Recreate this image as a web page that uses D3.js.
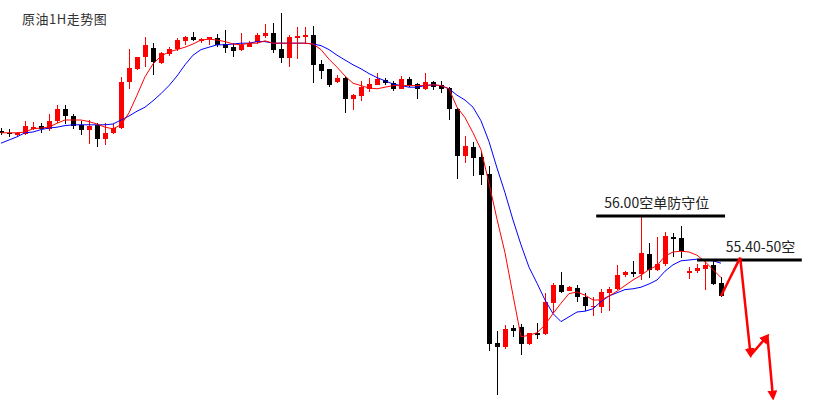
<!DOCTYPE html>
<html>
<head>
<meta charset="utf-8">
<title>原油1H走势图</title>
<script src="https://cdn.jsdelivr.net/npm/d3@7/dist/d3.min.js"></script>
<style>
  body { margin: 0; background: #fff; }
  text { font-family: "Noto Sans CJK SC", "Noto Sans", sans-serif; }
</style>
</head>
<body>
<svg width="840" height="400" id="mainsvg"></svg>
<script>
    // hourly bars, oldest first
    let opens = [
        57.06, 57.04, 57.01, 57.03, 57.10, 57.13, 57.09, 57.19, 57.34, 57.25,
        57.14, 57.08, 57.14, 56.96, 57.04, 57.10, 57.68, 57.84, 57.99, 58.10,
        57.91, 58.03, 58.09, 58.19, 58.24, 58.20, 58.21, 58.23, 58.15, 58.11,
        58.08, 58.11, 58.18, 58.25, 58.29, 58.09, 57.98, 58.24, 58.25, 58.26,
        57.90, 57.84, 57.68, 57.73, 57.46, 57.50, 57.59, 57.64, 57.70, 57.66,
        57.59, 57.71, 57.65, 57.59, 57.68, 57.64, 57.60, 57.34, 56.75, 56.86,
        56.74, 56.53, 54.41, 54.36, 54.60, 54.61, 54.40, 54.54, 54.53, 54.91,
        55.14, 55.06, 55.10, 54.99, 54.86, 54.86, 55.04, 55.09, 55.26, 55.30,
        55.28, 55.53, 55.33, 55.40, 55.74, 55.73, 55.30, 55.31, 55.34, 55.39,
        55.16
    ];
    let highs = [
        57.10, 57.09, 57.05, 57.19, 57.18, 57.16, 57.28, 57.39, 57.39, 57.28,
        57.19, 57.20, 57.16, 57.16, 57.15, 57.74, 58.09, 57.99, 58.24, 58.16,
        58.05, 58.11, 58.23, 58.25, 58.30, 58.23, 58.24, 58.28, 58.33, 58.16,
        58.29, 58.19, 58.29, 58.40, 58.41, 58.54, 58.26, 58.36, 58.36, 58.38,
        57.95, 57.84, 57.76, 57.74, 57.53, 57.69, 57.73, 57.79, 57.73, 57.69,
        57.75, 57.74, 57.66, 57.79, 57.69, 57.69, 57.61, 57.35, 57.00, 56.93,
        56.80, 56.63, 54.56, 54.64, 54.64, 54.65, 54.54, 54.66, 55.04, 55.16,
        55.30, 55.13, 55.14, 55.04, 54.99, 55.09, 55.11, 55.39, 55.31, 55.44,
        55.99, 55.66, 55.74, 55.80, 55.79, 55.88, 55.36, 55.40, 55.46, 55.45,
        55.24
    ];
    let lows = [
        57.01, 56.99, 57.00, 57.01, 57.08, 57.04, 57.06, 57.16, 57.15, 57.09,
        57.01, 56.90, 56.86, 56.89, 57.03, 57.09, 57.59, 57.83, 57.86, 57.76,
        57.90, 58.00, 58.06, 58.14, 58.19, 58.16, 58.14, 58.11, 58.04, 57.99,
        58.06, 58.11, 58.15, 58.23, 58.04, 57.91, 57.86, 57.96, 58.15, 57.66,
        57.71, 57.61, 57.66, 57.29, 57.33, 57.44, 57.55, 57.64, 57.64, 57.56,
        57.59, 57.61, 57.46, 57.58, 57.58, 57.54, 57.20, 56.46, 56.66, 56.50,
        56.39, 54.31, 53.76, 54.34, 54.49, 54.26, 54.39, 54.46, 54.51, 54.79,
        55.04, 55.06, 54.93, 54.81, 54.75, 54.79, 54.81, 55.08, 55.24, 55.24,
        55.20, 55.23, 55.31, 55.38, 55.49, 55.48, 55.21, 55.29, 55.08, 55.14,
        54.99
    ];
    let closes = [
        57.04, 57.03, 57.04, 57.13, 57.11, 57.09, 57.19, 57.34, 57.25, 57.13,
        57.08, 57.13, 56.96, 57.04, 57.10, 57.68, 57.85, 57.99, 58.14, 57.93,
        58.04, 58.09, 58.20, 58.24, 58.20, 58.21, 58.24, 58.14, 58.10, 58.06,
        58.14, 58.16, 58.26, 58.29, 58.08, 57.98, 58.24, 58.25, 58.26, 57.89,
        57.81, 57.64, 57.73, 57.46, 57.51, 57.61, 57.65, 57.71, 57.66, 57.59,
        57.71, 57.64, 57.59, 57.68, 57.61, 57.59, 57.34, 56.75, 56.88, 56.73,
        56.51, 54.40, 54.36, 54.59, 54.56, 54.40, 54.54, 54.51, 54.93, 55.14,
        55.05, 55.11, 54.99, 54.88, 54.88, 55.05, 55.09, 55.26, 55.30, 55.28,
        55.54, 55.33, 55.40, 55.75, 55.71, 55.56, 55.31, 55.35, 55.39, 55.15,
        55.00
    ];
    // moving averages as drawn on the chart
    let maFast = [
        57.04, 57.04, 57.04, 57.05, 57.09, 57.10, 57.11, 57.16, 57.20, 57.20,
        57.20, 57.18, 57.15, 57.11, 57.09, 57.14, 57.29, 57.51, 57.74, 57.90,
        58.00, 58.05, 58.08, 58.11, 58.15, 58.20, 58.21, 58.20, 58.18, 58.15,
        58.14, 58.16, 58.16, 58.19, 58.16, 58.16, 58.16, 58.16, 58.16, 58.15,
        58.08, 57.96, 57.86, 57.75, 57.66, 57.63, 57.60, 57.59, 57.61, 57.63,
        57.63, 57.63, 57.63, 57.63, 57.64, 57.63, 57.59, 57.36, 57.23, 57.04,
        56.83, 56.41, 55.96, 55.54, 55.01, 54.49, 54.51, 54.54, 54.64, 54.78,
        54.91, 55.03, 55.05, 55.01, 54.95, 54.95, 55.00, 55.06, 55.13, 55.20,
        55.26, 55.33, 55.38, 55.50, 55.55, 55.56, 55.55, 55.51, 55.43, 55.33,
        55.23
    ];
    let maSlow = [
        56.91, 56.95, 56.99, 57.04, 57.05, 57.08, 57.10, 57.11, 57.13, 57.14,
        57.14, 57.14, 57.14, 57.14, 57.15, 57.20, 57.25, 57.31, 57.36, 57.44,
        57.53, 57.63, 57.75, 57.89, 58.01, 58.08, 58.11, 58.14, 58.14, 58.15,
        58.16, 58.16, 58.18, 58.18, 58.16, 58.16, 58.16, 58.16, 58.16, 58.15,
        58.13, 58.08, 58.01, 57.95, 57.89, 57.84, 57.78, 57.73, 57.69, 57.65,
        57.63, 57.61, 57.61, 57.63, 57.64, 57.63, 57.59, 57.51, 57.45, 57.36,
        57.19, 56.93, 56.60, 56.29, 55.95, 55.64, 55.36, 55.16, 54.95, 54.78,
        54.68, 54.74, 54.80, 54.81, 54.84, 54.93, 55.00, 55.04, 55.08, 55.09,
        55.11, 55.15, 55.20, 55.31, 55.39, 55.44, 55.45, 55.46, 55.45, 55.44,
        55.41
    ];
    // marked levels (price, label, bar span)
    let levelPrices = [56.00, 55.45];
    let levelLabels = ['56.00空单防守位', '55.40-50空'];
    let levelFrom = [74.4, 87.0];
    let levelTo = [90.5, 100.1];
    let levelLabelAt = [75.4, 90.6];
    // expected route after the last bar (bar step, price)
    let routeSteps = [90, 92.4, 93.7, 95.8, 96.5];
    let routePrices = [55.00, 55.48, 54.26, 54.50, 53.73];

    let mainsvg = d3.select('#mainsvg');
    mainsvg.append('rect').attr('width', 840).attr('height', 400).attr('fill', '#fff');

    let x = d3.scaleLinear().domain([0, 90]).range([1, 721]);
    let y = d3.scaleLinear().domain([53.7, 58.7]).range([400, 0]);

    let bars = opens.map((o, i) => ({i: i, o: o, h: highs[i], l: lows[i], c: closes[i]}));
    let barColor = d => d.c >= d.o ? '#ff0000' : '#000000';

    let candles = mainsvg.append('g').attr('shape-rendering', 'crispEdges');
    candles.selectAll('line')
        .data(bars).enter().append('line')
        .attr('x1', d => Math.round(x(d.i)) + 0.5)
        .attr('x2', d => Math.round(x(d.i)) + 0.5)
        .attr('y1', d => y(d.h))
        .attr('y2', d => y(d.l))
        .attr('stroke', barColor)
        .attr('stroke-width', 1);
    candles.selectAll('rect')
        .data(bars).enter().append('rect')
        .attr('x', d => Math.round(x(d.i)) - 2)
        .attr('width', 5)
        .attr('y', d => y(Math.max(d.o, d.c)))
        .attr('height', d => Math.max(1.5, Math.abs(y(d.o) - y(d.c))))
        .attr('fill', barColor);

    let maLine = d3.line().x((d, i) => x(i)).y(d => y(d));
    mainsvg.append('path').attr('d', maLine(maSlow))
        .attr('fill', 'none').attr('stroke', '#0000ff').attr('stroke-width', 1);
    mainsvg.append('path').attr('d', maLine(maFast))
        .attr('fill', 'none').attr('stroke', '#ff0000').attr('stroke-width', 1);

    // levels
    let levels = mainsvg.append('g');
    levelPrices.forEach((p, k) => {
        levels.append('line')
            .attr('x1', x(levelFrom[k])).attr('x2', x(levelTo[k]))
            .attr('y1', y(p)).attr('y2', y(p))
            .attr('stroke', '#000').attr('stroke-width', 3);
        levels.append('text')
            .attr('x', x(levelLabelAt[k]))
            .attr('y', y(p) - 8)
            .attr('font-size', 14)
            .attr('fill', '#222')
            .text(levelLabels[k]);
    });

    // route arrows
    let defs = mainsvg.append('defs');
    defs.append('marker')
        .attr('id', 'head')
        .attr('markerUnits', 'userSpaceOnUse')
        .attr('viewBox', '0 0 10 10')
        .attr('refX', 7).attr('refY', 5)
        .attr('markerWidth', 10).attr('markerHeight', 10)
        .attr('orient', 'auto')
        .append('path').attr('d', 'M0,0 L10,5 L0,10 z').attr('fill', '#ff0000');
    for (let k = 0; k < routeSteps.length - 1; k++) {
        let seg = mainsvg.append('line')
            .attr('x1', x(routeSteps[k])).attr('y1', y(routePrices[k]))
            .attr('x2', x(routeSteps[k + 1])).attr('y2', y(routePrices[k + 1]))
            .attr('stroke', '#ff0000').attr('stroke-width', 2.5);
        if (k > 0) seg.attr('marker-end', 'url(#head)');
    }

    mainsvg.append('text')
        .attr('x', 22).attr('y', 24)
        .attr('font-size', 13)
        .attr('fill', '#333')
        .attr('letter-spacing', 0.5)
        .text('原油1H走势图');
</script>
</body>
</html>
